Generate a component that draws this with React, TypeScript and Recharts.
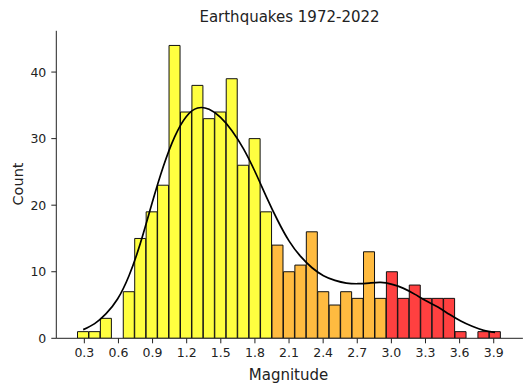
import React from 'react';
import { ComposedChart, Bar, Line, XAxis, YAxis, Cell } from 'recharts';

// histogram bins (centre of each 0.1006-wide bin, edges 0.24 .. 3.964)
const binCenters = [
  0.2903, 0.3909, 0.4915, 0.5921, 0.6927, 0.7933, 0.8939, 0.9945, 1.0951, 1.1957,
  1.2963, 1.3969, 1.4975, 1.5981, 1.6987, 1.7993, 1.8999, 2.0005, 2.1011, 2.2017,
  2.3023, 2.4029, 2.5035, 2.6041, 2.7047, 2.8053, 2.9059, 3.0065, 3.1071, 3.2077,
  3.3083, 3.4089, 3.5095, 3.6101, 3.7107, 3.8113, 3.9119,
];

const counts = [
  1, 1, 3, 0, 7, 15, 19, 23, 44, 34,
  38, 33, 34, 39, 26, 30, 19, 14, 10, 11,
  16, 7, 5, 7, 6, 13, 6, 10, 6, 8,
  6, 6, 6, 1, 0, 1, 1,
];

// kde curve read at the bin centres
const kde = [
  1.3, 2.2, 3.7, 5.9, 9.4, 14.3, 20.2, 25.8, 30.3, 33.3,
  34.6, 34.4, 33.2, 31.2, 28.5, 25.1, 21.3, 17.7, 14.6, 12.3,
  10.6, 9.4, 8.7, 8.3, 8.2, 8.3, 8.4, 8.1, 7.5, 6.6,
  5.6, 4.7, 3.6, 2.6, 1.8, 1.2, 0.9,
];

const xTicks = [0.3, 0.6, 0.9, 1.2, 1.5, 1.8, 2.1, 2.4, 2.7, 3.0, 3.3, 3.6, 3.9];
const yTicks = [0, 10, 20, 30, 40];

const FONT = '"DejaVu Sans", sans-serif';
const INK = '#222';

function barColor(x: number) {
  if (x < 1.95) return '#ffff40';
  if (x < 2.95) return '#ffbb40';
  return '#ff4040';
}

export default function App() {
  const data = binCenters.map((x, i) => ({ x, count: counts[i], kde: kde[i] }));
  const tick = { fill: INK, fontSize: 12.5, fontFamily: FONT };

  return (
    <div style={{ position: 'absolute', left: 0, top: 0, width: 531, height: 392, background: '#fff' }}>
      <ComposedChart
        width={531}
        height={392}
        data={data}
        margin={{ top: 30.8, right: 8.1, bottom: 0, left: 0 }}
        barCategoryGap={0}
        barGap={0}
      >
        <XAxis
          dataKey="x"
          type="number"
          domain={[0.0535, 4.1565]}
          allowDataOverflow
          ticks={xTicks}
          tickFormatter={(v: number) => v.toFixed(1)}
          tick={tick}
          tickSize={5}
          tickMargin={5}
          stroke={INK}
          height={53.7}
          interval={0}
        />
        <YAxis
          type="number"
          domain={[0, 46.2]}
          allowDataOverflow
          ticks={yTicks}
          tick={tick}
          tickSize={5}
          tickMargin={5}
          stroke={INK}
          width={56.3}
          interval={0}
        />
        <Bar dataKey="count" stroke="#111" strokeWidth={1} isAnimationActive={false}>
          {data.map((d, i) => (
            <Cell key={`bin-${i}`} fill={barColor(d.x)} />
          ))}
        </Bar>
        <Line
          dataKey="kde"
          type="natural"
          stroke="#000"
          strokeWidth={1.7}
          dot={false}
          isAnimationActive={false}
        />
      </ComposedChart>
      <svg
        width={531}
        height={392}
        style={{ position: 'absolute', left: 0, top: 0, pointerEvents: 'none' }}
        fontFamily={FONT}
        fill={INK}
      >
        <text x={289.5} y={21.5} fontSize={15} textAnchor="middle">
          Earthquakes 1972-2022
        </text>
        <text x={288.5} y={380} fontSize={15} textAnchor="middle">
          Magnitude
        </text>
        <text transform="translate(22.5,184) rotate(-90)" fontSize={14.5} textAnchor="middle">
          Count
        </text>
      </svg>
    </div>
  );
}
